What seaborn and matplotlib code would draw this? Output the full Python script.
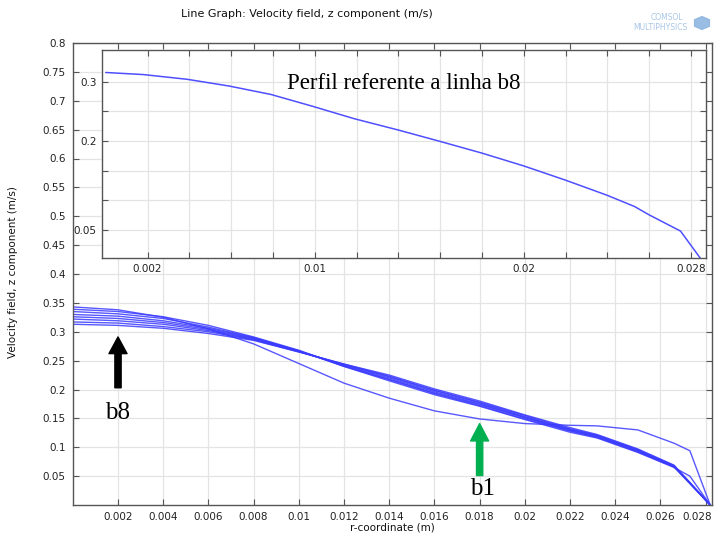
import matplotlib
matplotlib.use("Agg")
import matplotlib.pyplot as plt
import matplotlib.patches as mpatches
import matplotlib.transforms as mtransforms
import numpy as np
import pandas as pd
import seaborn as sns

# Radial positions (m) shared by the velocity profiles of lines b1..b8
r_coord = [0.0, 0.002, 0.004, 0.006, 0.008, 0.010, 0.012, 0.014, 0.016, 0.018,
           0.020, 0.022, 0.0232, 0.025, 0.0266, 0.0273, 0.0282]

# Axial velocity (m/s) along each line
v_b1 = [0.343, 0.338, 0.325, 0.305, 0.279, 0.245, 0.211, 0.185, 0.163, 0.149,
        0.141, 0.138, 0.137, 0.130, 0.107, 0.094, 0.0]
v_b2 = [0.339, 0.335, 0.326, 0.311, 0.291, 0.268, 0.240, 0.215, 0.191, 0.171,
        0.148, 0.126, 0.116, 0.091, 0.065, 0.050, 0.0]
v_b3 = [0.335, 0.331, 0.323, 0.308, 0.290, 0.267, 0.240, 0.217, 0.193, 0.172,
        0.149, 0.128, 0.117, 0.092, 0.066, 0.037, 0.0]
v_b4 = [0.330, 0.327, 0.319, 0.306, 0.289, 0.267, 0.241, 0.218, 0.194, 0.174,
        0.151, 0.129, 0.118, 0.093, 0.066, 0.038, 0.0]
v_b5 = [0.326, 0.323, 0.316, 0.304, 0.288, 0.266, 0.242, 0.220, 0.196, 0.175,
        0.152, 0.130, 0.119, 0.094, 0.067, 0.038, 0.0]
v_b6 = [0.322, 0.319, 0.313, 0.302, 0.287, 0.266, 0.243, 0.222, 0.198, 0.177,
        0.153, 0.131, 0.120, 0.095, 0.068, 0.038, 0.0]
v_b7 = [0.317, 0.315, 0.309, 0.300, 0.286, 0.265, 0.244, 0.223, 0.199, 0.178,
        0.155, 0.132, 0.121, 0.096, 0.068, 0.039, 0.0]
v_b8 = [0.313, 0.311, 0.306, 0.297, 0.285, 0.265, 0.244, 0.225, 0.201, 0.180,
        0.156, 0.134, 0.122, 0.097, 0.069, 0.039, 0.0]

line_names = ["b1", "b2", "b3", "b4", "b5", "b6", "b7", "b8"]

# Detailed profile of line b8 (inset)
r_b8_detail = [0.0, 0.0018, 0.0039, 0.0059, 0.0079, 0.0099, 0.0119, 0.0140,
               0.0160, 0.0180, 0.0200, 0.0220, 0.0240, 0.0253, 0.0260, 0.0275, 0.0285]
v_b8_detail = [0.3155, 0.312, 0.304, 0.2927, 0.2785, 0.2585, 0.2375, 0.2185,
               0.1993, 0.1796, 0.158, 0.134, 0.1084, 0.0896, 0.0755, 0.0482, 0.0]

profiles = pd.concat(
    [pd.DataFrame({"r": r_coord, "v": v, "linha": name})
     for name, v in zip(line_names, [v_b1, v_b2, v_b3, v_b4, v_b5, v_b6, v_b7, v_b8])],
    ignore_index=True)
detail = pd.DataFrame({"r": r_b8_detail, "v": v_b8_detail})

sns.set_style("ticks")
plt.rcParams["font.family"] = ["DejaVu Sans"]

W, H = 714, 535
fig = plt.figure(figsize=(W / 100, H / 100), dpi=100)

def px_axes(left, top, right, bottom):
    return [left / W, 1 - bottom / H, (right - left) / W, (bottom - top) / H]

line_color = "#3b3bff"
grid_color = "#e4e4e4"
spine_color = "#555555"
tick_color = "#222222"

# ---- main axes ----
ax = fig.add_axes(px_axes(72.8, 43, 712, 505))
sns.lineplot(data=profiles, x="r", y="v", hue="linha", units="linha", estimator=None,
             sort=False, palette=[line_color] * 8, legend=False, lw=1.0, alpha=0.85, ax=ax)
ax.set_xlim(0, 0.02828)
ax.set_ylim(0, 0.8)
xt = np.round(np.arange(0.002, 0.0281, 0.002), 3)
ax.set_xticks(xt)
ax.set_xticklabels([f"{t:g}" for t in xt])
yt = np.round(np.arange(0.05, 0.801, 0.05), 2)
ax.set_yticks(yt)
ax.set_yticklabels([f"{t:g}" for t in yt])
ax.grid(True, color=grid_color, lw=0.9)
ax.set_xlabel("")
ax.set_ylabel("")
ax.tick_params(direction="in", length=4, width=0.8, colors=spine_color,
               labelcolor=tick_color, labelsize=7.5, top=True, right=True, pad=5)
for s in ax.spines.values():
    s.set_color(spine_color)
    s.set_linewidth(1.0)
# keep the last x label inside the figure edge
last_lbl = ax.get_xticklabels()[-1]
last_lbl.set_transform(last_lbl.get_transform() +
                       mtransforms.ScaledTranslation(-8 / 100, 0, fig.dpi_scale_trans))

# arrows and labels pointing at lines b8 and b1
ax.annotate("", xy=(0.002, 0.291), xytext=(0.002, 0.203),
            arrowprops=dict(arrowstyle="simple,head_width=1.3,head_length=1.2,tail_width=0.45",
                            mutation_scale=10, color="black", shrinkA=0, shrinkB=0))
ax.text(0.002, 0.160, "b8", ha="center", va="center", fontsize=18,
        family="Liberation Serif", color="black")
ax.annotate("", xy=(0.018, 0.141), xytext=(0.018, 0.051),
            arrowprops=dict(arrowstyle="simple,head_width=1.3,head_length=1.25,tail_width=0.45",
                            mutation_scale=10, color="#00b050", shrinkA=0, shrinkB=0))
ax.text(0.01815, 0.027, "b1", ha="center", va="center", fontsize=18,
        family="Liberation Serif", color="black")

# ---- inset: profile along b8 ----
ins = fig.add_axes(px_axes(102, 50, 706, 258))
ins.set_facecolor("white")
sns.lineplot(data=detail, x="r", y="v", sort=False, estimator=None,
             color="#4f4fff", lw=1.1, ax=ins)
ins.set_xlim(-0.000177, 0.02872)
ins.set_ylim(0.0028, 0.3534)
ixt = np.round(np.arange(0.002, 0.0281, 0.002), 3)
ins.set_xticks(ixt)
ins.set_xticklabels([f"{t:g}" if t in (0.002, 0.01, 0.02, 0.028) else "" for t in ixt])
iyt = [0.05, 0.1, 0.15, 0.2, 0.25, 0.3]
ins.set_yticks(iyt)
ins.set_yticklabels(["0.05", "", "", "0.2", "", "0.3"])
ins.grid(True, color=grid_color, lw=0.9)
ins.set_xlabel("")
ins.set_ylabel("")
ins.tick_params(direction="in", length=4, width=0.8, colors=spine_color,
                labelcolor=tick_color, labelsize=7.5, top=True, right=True, pad=4)
for s in ins.spines.values():
    s.set_color(spine_color)
    s.set_linewidth(1.0)
ins.text(0.5, 0.84, "Perfil referente a linha b8", transform=ins.transAxes,
         ha="center", va="center", fontsize=16.5, family="Liberation Serif", color="black")

# ---- figure texts ----
fig.text(181 / W, 1 - 14 / H, "Line Graph: Velocity field, z component (m/s)",
         ha="left", va="center", fontsize=8, color="#111111")
fig.text(392 / W, 1 - 528 / H, "r-coordinate (m)", ha="center", va="center",
         fontsize=7.5, color="#111111")
fig.text(13 / W, 1 - 272 / H, "Velocity field, z component (m/s)", rotation=90,
         ha="center", va="center", fontsize=7.5, color="#111111")
fig.text(683 / W, 1 - 18 / H, "COMSOL", ha="right", va="center", fontsize=5.5,
         color="#a8c6e6")
fig.text(688 / W, 1 - 27 / H, "MULTIPHYSICS", ha="right", va="center", fontsize=5.5,
         color="#a8c6e6")
fig.patches.append(mpatches.RegularPolygon((702 / W, 1 - 23 / H), numVertices=6,
                                           radius=0.012, transform=fig.transFigure,
                                           color="#8fb6e0", alpha=0.9))

fig.savefig("out.png", dpi=100, facecolor="white")
